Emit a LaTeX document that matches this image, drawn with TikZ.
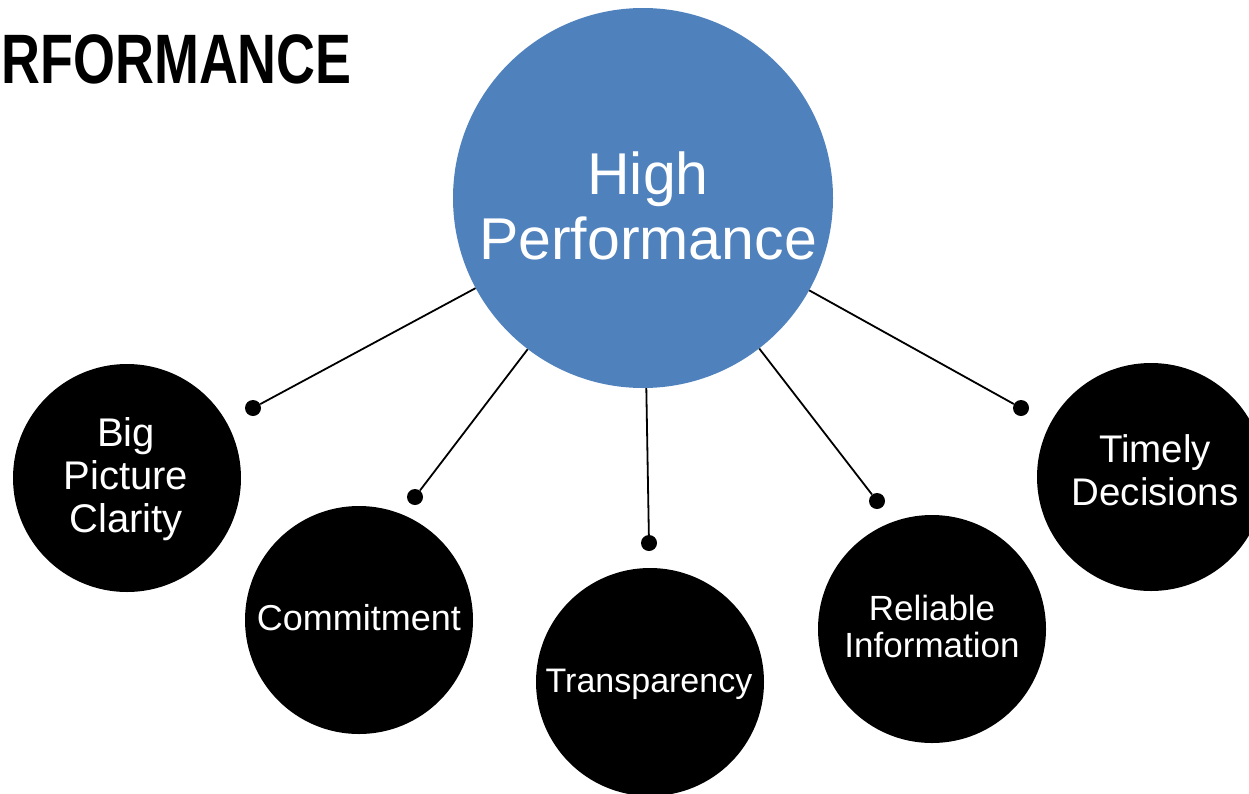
\documentclass[tikz,border=0pt]{standalone}
\usepackage{fontspec}
\setmainfont{Liberation Sans}
\usetikzlibrary{positioning}
\definecolor{hpblue}{HTML}{4F81BD}
\tikzset{
    hub/.style = {circle, fill=hpblue, inner sep=0pt, minimum size=380pt},
    topic/.style = {circle, fill=black, inner sep=0pt, minimum size=228pt},
    txt/.style = {text=white, inner sep=0pt, align=center},
    point/.style = {circle, fill, inner sep=0pt, minimum size=16pt, node contents={}},
    link/.style = {line width=1.8pt}
}
\begin{document}
\begin{tikzpicture}[x=1pt,y=-1pt]
    \useasboundingbox (0,0) rectangle (1249,793);
    \node[anchor=base east, inner sep=0pt] (title) at (352,83)
        {\fontsize{70}{70}\selectfont\bfseries\scalebox{0.77}[1]{RFORMANCE}};

    \node[hub] (hp) at (643,198) {};
    \node[txt, font=\fontsize{59}{65}\selectfont] (hpt) at (648,206) {High\\Performance};

    \node[topic] (bpc) at (127,478) {};
    \node[topic] (com) at (359,620) {};
    \node[topic] (tra) at (650,682) {};
    \node[topic] (rel) at (932,629) {};
    \node[topic] (tim) at (1151,477) {};

    \node[txt, font=\fontsize{40}{43}\selectfont] (bpct) at (126,479) {Big\\Picture\\Clarity};
    \node[txt, font=\fontsize{36}{40}\selectfont] (comt) at (359,618) {Commitment};
    \node[txt, font=\fontsize{34}{38}\selectfont] (trat) at (649,684) {Transparency};
    \node[txt, font=\fontsize{35}{37}\selectfont] (relt) at (932,626) {Reliable\\Information};
    \node[txt, font=\fontsize{38.5}{43}\selectfont] (timt) at (1155,470) {Timely\\Decisions};

    \node (d1) at (253,408) [point];
    \node (d2) at (415,497) [point];
    \node (d3) at (649,543) [point];
    \node (d4) at (877,501) [point];
    \node (d5) at (1021,408) [point];

    \path[link] (hp) edge (d1);
    \path[link] (hp) edge (d2);
    \path[link] (hp) edge (d3);
    \path[link] (hp) edge (d4);
    \path[link] (hp) edge (d5);
\end{tikzpicture}
\end{document}
